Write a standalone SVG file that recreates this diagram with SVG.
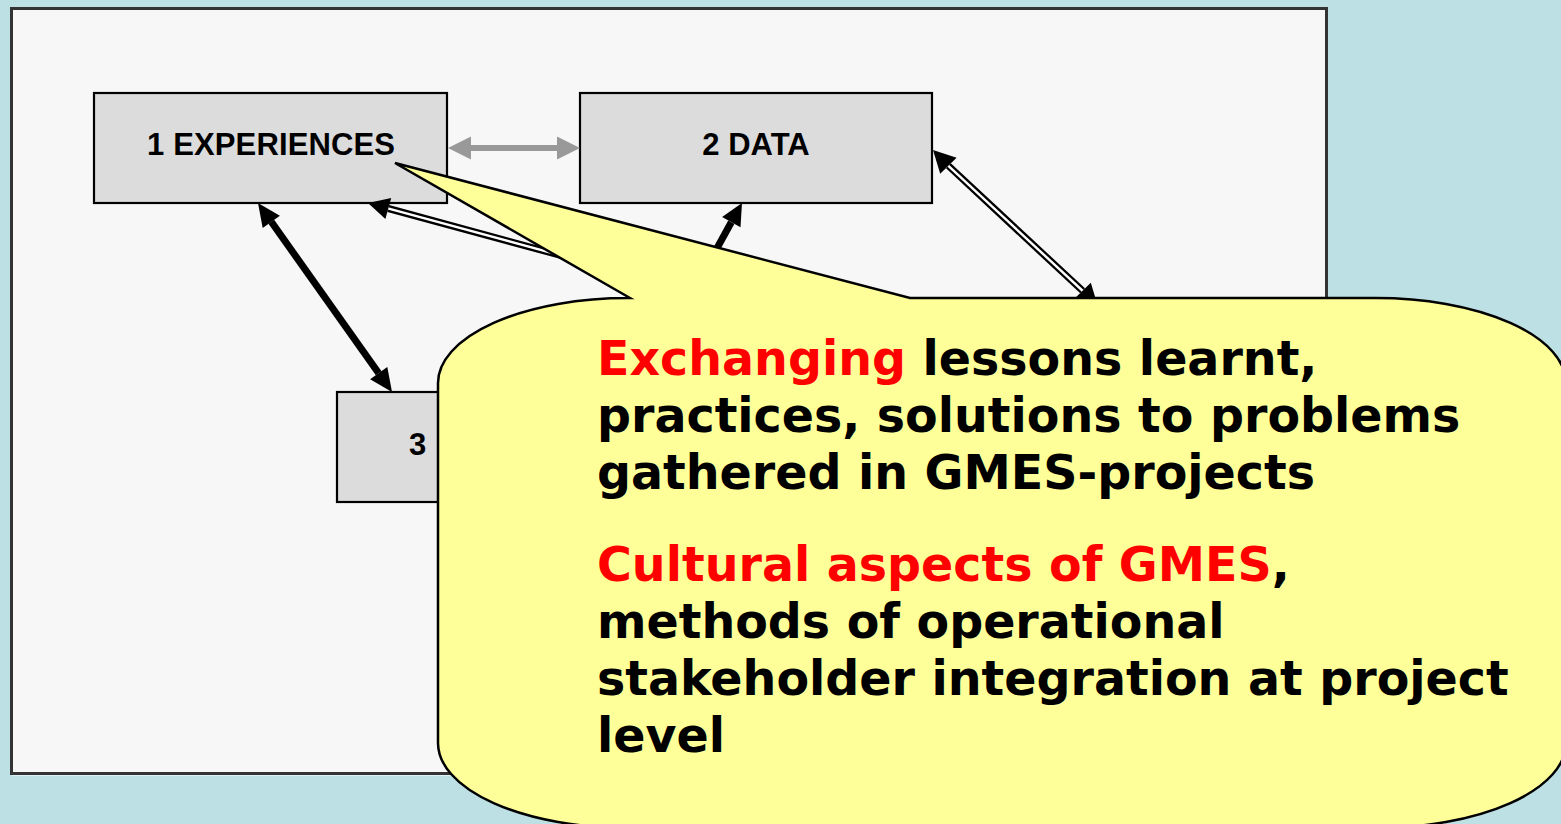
<svg xmlns="http://www.w3.org/2000/svg" width="1561" height="824" viewBox="0 0 1561 824">
<style>
.box{fill:#dcdcdc;stroke:#000;stroke-width:2.2}
.lbl{font-family:"Liberation Sans",Arial,sans-serif;font-weight:bold;font-size:31px;fill:#000}
.ct{font-family:"DejaVu Sans",Verdana,sans-serif;font-weight:bold;font-size:47.5px;fill:#000}
.red{fill:#ff0000}
.hout{stroke:#000;stroke-width:7;fill:none}
.hin{stroke:#fff;stroke-width:2.4;fill:none}
.head{fill:#000}
</style>
<rect x="0" y="0" width="1561" height="824" fill="#bce0e3"/>
<rect x="12.5" y="10.5" width="1315" height="765" fill="#ffffff"/>
<rect x="11.5" y="8.5" width="1315" height="765" fill="#f7f7f7" stroke="#333" stroke-width="3"/>

<g id="node1">
<rect class="box" x="94" y="93" width="353" height="110"/>
<text class="lbl" x="147" y="155" textLength="248" lengthAdjust="spacing">1 EXPERIENCES</text>
</g>
<g id="node2">
<rect class="box" x="580" y="93" width="352" height="110"/>
<text class="lbl" x="756" y="155" text-anchor="middle">2 DATA</text>
</g>
<g id="node3">
<rect class="box" x="337" y="392" width="352" height="110"/>
<text class="lbl" x="409" y="455">3</text>
</g>

<g id="connectors">
<line x1="468" y1="148" x2="560" y2="148" stroke="#999" stroke-width="6"/>
<polygon points="448,148 471,136.5 471,159.5" fill="#999"/>
<polygon points="580,148 557,136.5 557,159.5" fill="#999"/>

<line x1="271.3" y1="221.8" x2="378.7" y2="373.2" stroke="#000" stroke-width="7"/>
<polygon class="head" points="258,203 262.7,227.9 279.9,215.7"/>
<polygon class="head" points="392,392 370.1,379.3 387.3,367.1"/>

<line class="hout" x1="388.3" y1="208.5" x2="580" y2="260.6"/>
<line class="hin" x1="386" y1="207.9" x2="580" y2="260.6"/>
<polygon class="head" points="368,203 385.4,219.1 391.2,197.9"/>

<line x1="731.3" y1="222.2" x2="705" y2="270" stroke="#000" stroke-width="7"/>
<polygon class="head" points="742,203 740.5,227.3 722.1,217.1"/>

<line class="hout" x1="948.4" y1="165.8" x2="1082.6" y2="290.8"/>
<line class="hin" x1="946" y1="163.6" x2="1085" y2="293"/>
<polygon class="head" points="933,150 940.2,173.8 956.6,157.8"/>
<polygon class="head" points="1098,306.6 1074.4,298.8 1090.8,282.8"/>
</g>

<g id="callout">
<path d="M630,298 L395,163 L910,298 L1376,298 A190,85 0 0 1 1566,383 L1566,743 A190,85 0 0 1 1376,828 L628,828 A190,85 0 0 1 438,743 L438,383 A190,85 0 0 1 628,298 Z" fill="#ffff99" stroke="#000" stroke-width="2.5" stroke-linejoin="miter"/>
<text class="ct" x="597" y="375"><tspan class="red">Exchanging</tspan> lessons learnt,</text>
<text class="ct" x="597" y="432">practices, solutions to problems</text>
<text class="ct" x="597" y="489">gathered in GMES-projects</text>
<text class="ct" x="597" y="581"><tspan class="red">Cultural aspects of GMES</tspan>,</text>
<text class="ct" x="597" y="638">methods of operational</text>
<text class="ct" x="597" y="695">stakeholder integration at project</text>
<text class="ct" x="597" y="752">level</text>
</g>
</svg>
